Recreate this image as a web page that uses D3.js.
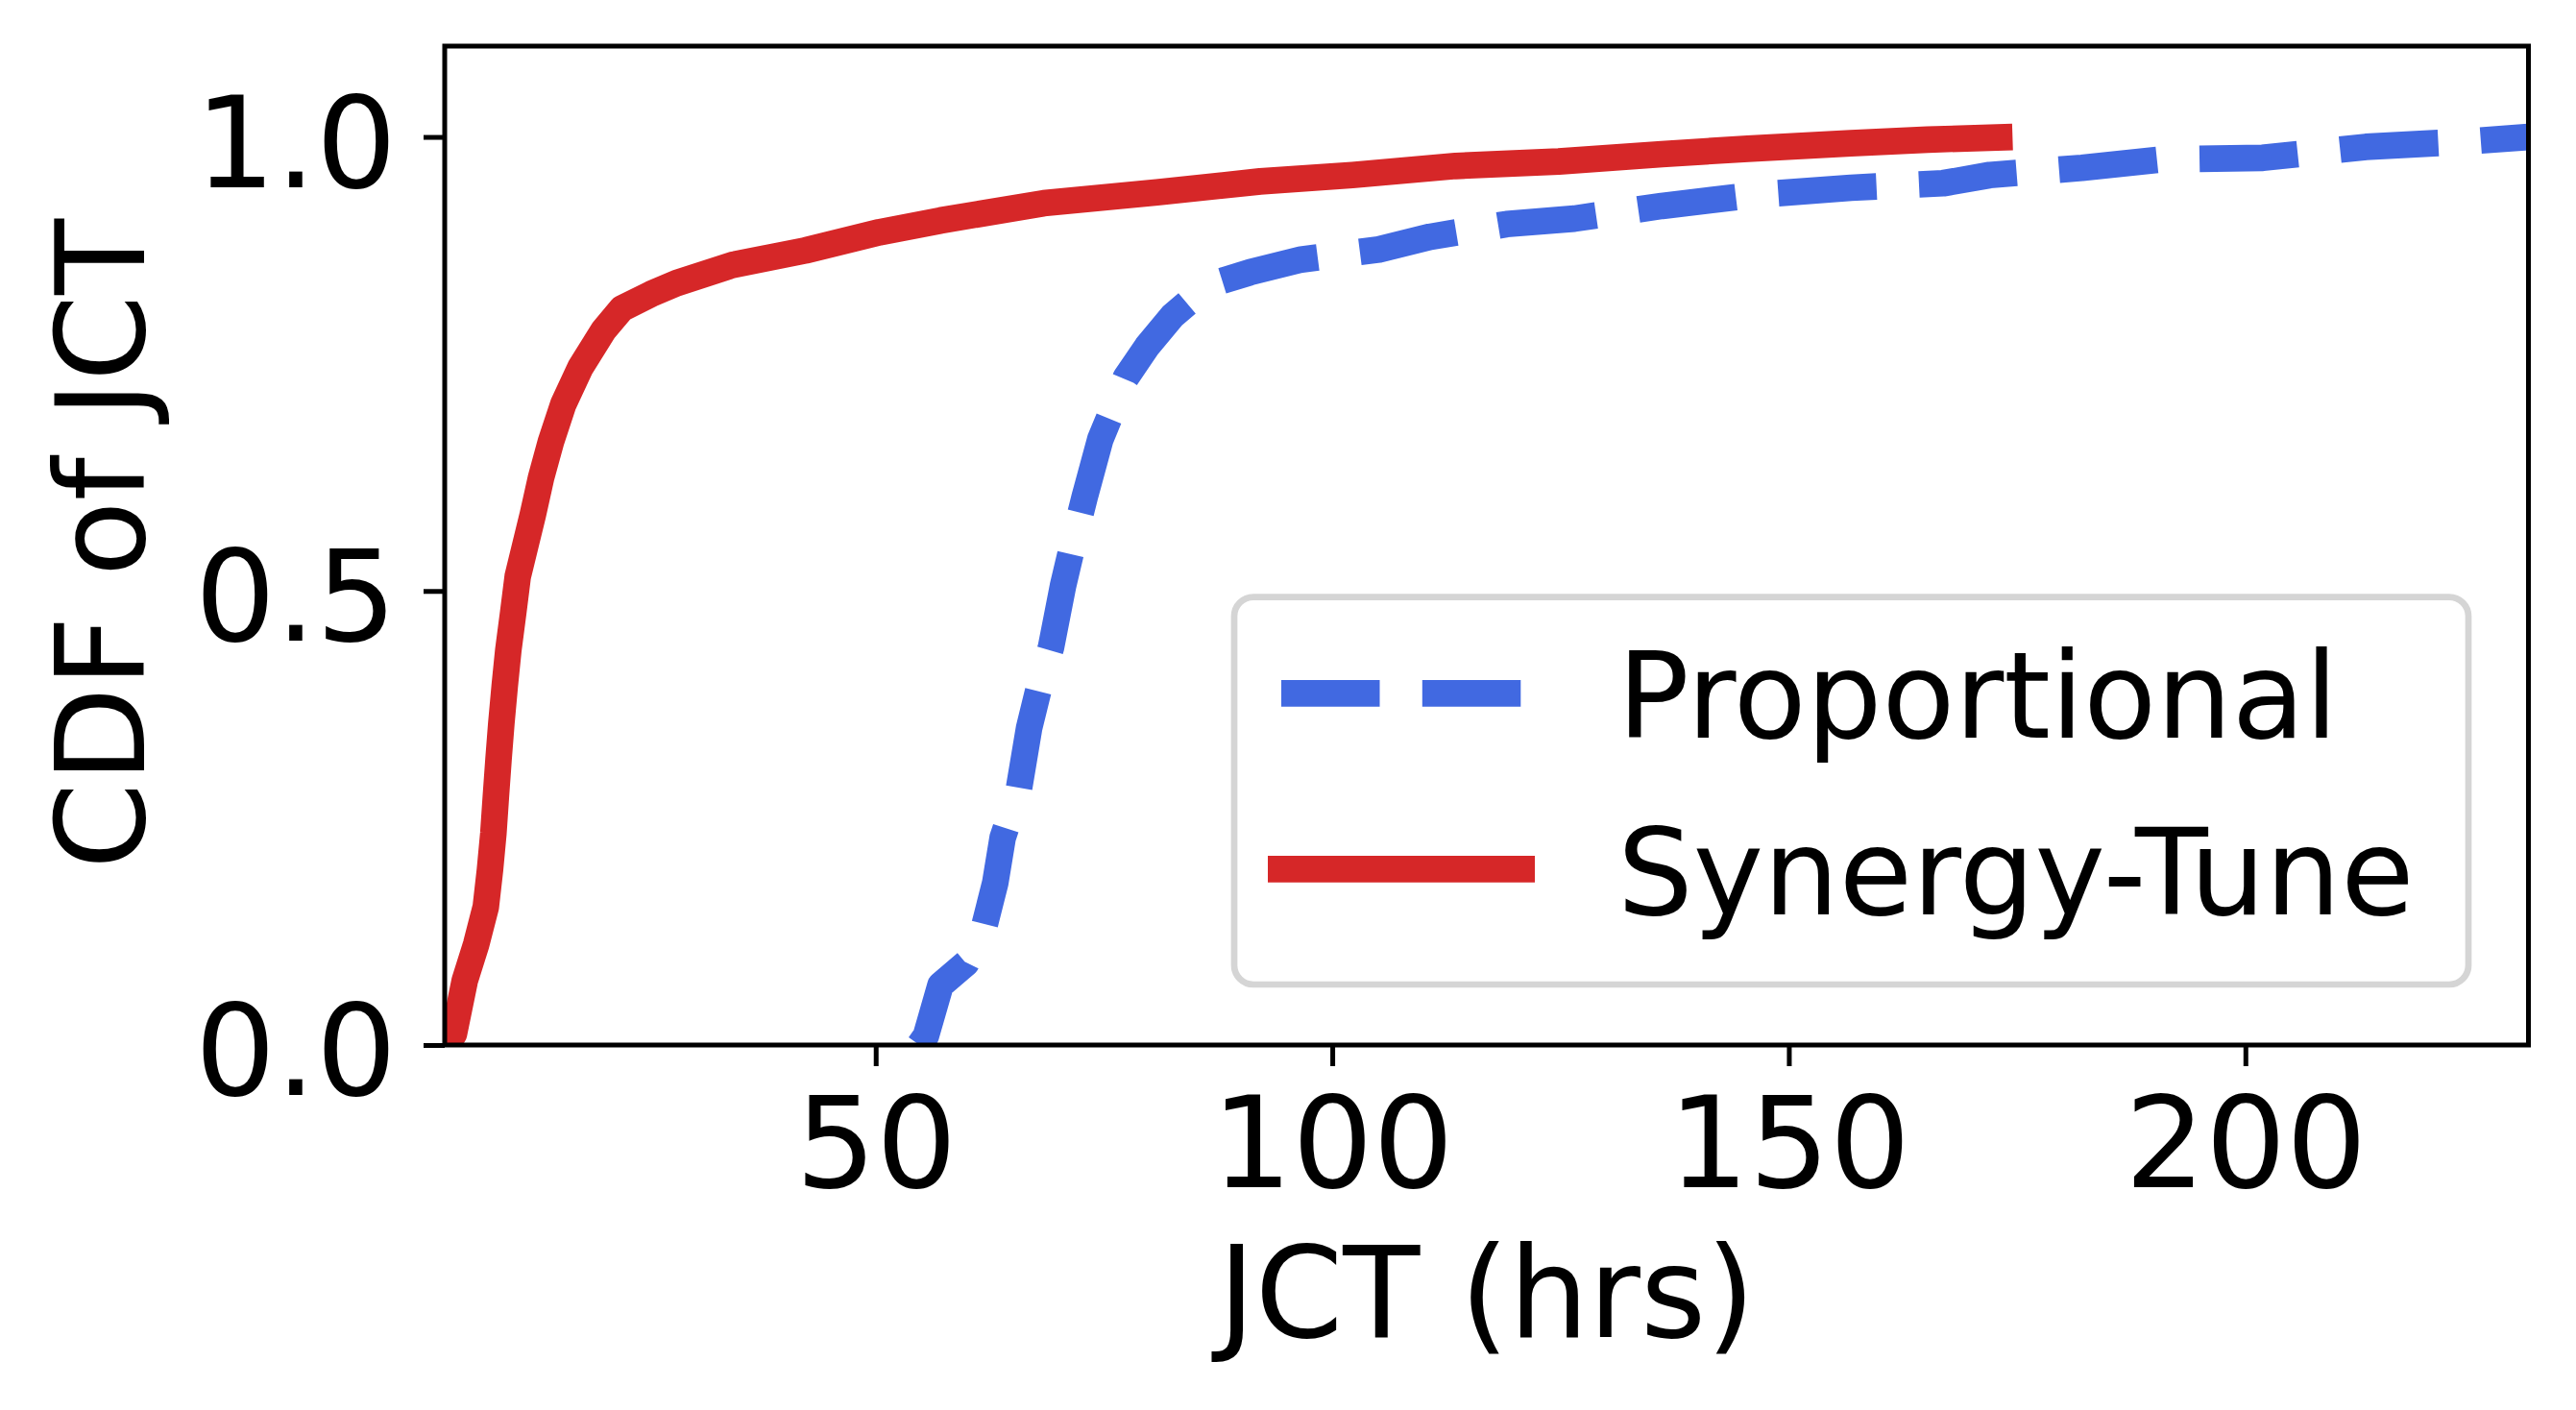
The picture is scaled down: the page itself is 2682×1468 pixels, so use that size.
<!DOCTYPE html>
<html>
<head>
<meta charset="utf-8">
<script src="https://cdn.jsdelivr.net/npm/d3@7"></script>
<style>
  html, body { margin: 0; padding: 0; background: #ffffff; }
  svg { display: block; }
  text { font-family: "DejaVu Sans", sans-serif; fill: #000; }
</style>
</head>
<body>
<svg id="chart" width="2682" height="1468"></svg>
<script>
// ---- Data ----
const seriesNames = ["Proportional", "Synergy-Tune"];

// Proportional (blue dashed) CDF
const propX = [54.8, 55.5, 57.1, 59.9, 61.9, 63.1, 63.9, 65.7, 66.8, 67.8, 69.2, 70.5, 71.6, 72.9, 74.6,
  77.4, 79.7, 82.5, 86.5, 91.0, 96.6, 105.1, 110.7, 119.1, 126.5, 136.1, 141.1, 146.1, 156.8, 166.9,
  172.0, 182.1, 190.6, 201.9, 213.2, 224.4, 231.0];
const propY = [0.0, 0.01, 0.066, 0.090, 0.131, 0.179, 0.228, 0.283, 0.349, 0.390, 0.438, 0.505, 0.552, 0.604, 0.667,
  0.735, 0.769, 0.803, 0.837, 0.851, 0.865, 0.876, 0.890, 0.904, 0.910, 0.924, 0.930, 0.936, 0.944, 0.949,
  0.958, 0.966, 0.975, 0.977, 0.989, 0.995, 1.0];

// Synergy-Tune (red solid) CDF
const synX = [2.9, 3.8, 5.0, 6.25, 7.3, 7.76, 8.13, 8.4, 8.69, 9.0, 9.37, 9.77, 10.3, 10.8, 12.45, 13.36,
  14.45, 15.8, 17.66, 20.2, 22.2, 25.4, 28.2, 34.3, 42.3, 50.4, 57.1, 68.4, 80.8, 92.1, 102.2, 113.5,
  124.8, 136.1, 145.5, 156.8, 165.2, 174.5];
const synY = [0.0, 0.012, 0.071, 0.111, 0.152, 0.193, 0.233, 0.273, 0.314, 0.354, 0.395, 0.435, 0.476, 0.516, 0.584, 0.625,
  0.665, 0.706, 0.746, 0.787, 0.811, 0.827, 0.839, 0.859, 0.875, 0.895, 0.908, 0.927, 0.939, 0.951, 0.958, 0.968,
  0.973, 0.981, 0.987, 0.993, 0.997, 1.0];

const xTicks = [50, 100, 150, 200];
const yTicks = [0.0, 0.5, 1.0];
const yTickLabels = ["0.0", "0.5", "1.0"];
const xDomain = [2.8, 231.0];
const yDomain = [0, 1.1];

// ---- Layout ----
const L = 463, R = 2632.5, T = 48, B = 1088;
const svg = d3.select("#chart");
const x = d3.scaleLinear().domain(xDomain).range([L, R]);
const y = d3.scaleLinear().domain(yDomain).range([B, T]);

const lw = 27.7;
const blue = "#4169e1", red = "#d62728";
const tickFont = 132, labelFont = 131, legendFont = 124;

svg.append("defs").append("clipPath").attr("id", "plotclip")
  .append("rect").attr("x", L).attr("y", T).attr("width", R - L).attr("height", B - T);

const line = d3.line().x(d => x(d[0])).y(d => y(d[1]));
const propData = propX.map((v, i) => [v, propY[i]]);
const synData = synX.map((v, i) => [v, synY[i]]);

const plot = svg.append("g").attr("clip-path", "url(#plotclip)");
plot.append("path").datum(propData)
  .attr("d", line).attr("fill", "none").attr("stroke", blue)
  .attr("stroke-width", lw).attr("stroke-dasharray", "102.5 44.3")
  .attr("stroke-linejoin", "round").attr("stroke-linecap", "butt");
plot.append("path").datum(synData)
  .attr("d", line).attr("fill", "none").attr("stroke", red)
  .attr("stroke-width", lw).attr("stroke-linejoin", "round").attr("stroke-linecap", "butt");

// ---- Axes ----
const xAxis = d3.axisBottom(x).tickValues(xTicks).tickSize(22).tickPadding(32.5).tickFormat(d3.format("d"));
const gx = svg.append("g").attr("transform", `translate(0,${B})`).call(xAxis);
gx.select(".domain").remove();
gx.selectAll(".tick line").attr("stroke", "#000").attr("stroke-width", 5);
gx.selectAll(".tick text").attr("font-size", tickFont).attr("font-family", "DejaVu Sans").attr("fill", "#000");

const yAxis = d3.axisLeft(y).tickValues(yTicks).tickSize(22).tickPadding(28)
  .tickFormat((d, i) => yTickLabels[i]);
const gy = svg.append("g").attr("transform", `translate(${L},0)`).call(yAxis);
gy.select(".domain").remove();
gy.selectAll(".tick line").attr("stroke", "#000").attr("stroke-width", 5);
gy.selectAll(".tick text").attr("font-size", tickFont).attr("font-family", "DejaVu Sans").attr("fill", "#000")
  .attr("dy", "0.39em");

// Frame
svg.append("rect").attr("x", L).attr("y", T).attr("width", R - L).attr("height", B - T)
  .attr("fill", "none").attr("stroke", "#000").attr("stroke-width", 5);

// Axis labels
svg.append("text").attr("x", (L + R) / 2).attr("y", 1392).attr("text-anchor", "middle")
  .attr("font-size", labelFont).text("JCT (hrs)");
svg.append("text").attr("transform", `translate(150,566.5) rotate(-90)`)
  .attr("text-anchor", "middle").attr("font-size", 129).text("CDF of JCT");

// ---- Legend ----
const lg = svg.append("g");
lg.append("rect").attr("x", 1285).attr("y", 621.6).attr("width", 1285).attr("height", 403.4)
  .attr("rx", 20).attr("ry", 20).attr("fill", "#ffffff").attr("fill-opacity", 0.8)
  .attr("stroke", "#d5d5d5").attr("stroke-width", 6.7);
const legendRows = [
  { name: seriesNames[0], color: blue, dash: "102.5 44.3", x1: 1334, x2: 1584, ly: 721.8, ty: 767.7 },
  { name: seriesNames[1], color: red, dash: null, x1: 1320, x2: 1598, ly: 904.8, ty: 951.7 }
];
legendRows.forEach(r => {
  const ln = lg.append("line").attr("x1", r.x1).attr("x2", r.x2).attr("y1", r.ly).attr("y2", r.ly)
    .attr("stroke", r.color).attr("stroke-width", lw).attr("stroke-linecap", "butt");
  if (r.dash) ln.attr("stroke-dasharray", r.dash);
  lg.append("text").attr("x", 1684).attr("y", r.ty).attr("font-size", legendFont).text(r.name);
});
</script>
</body>
</html>
